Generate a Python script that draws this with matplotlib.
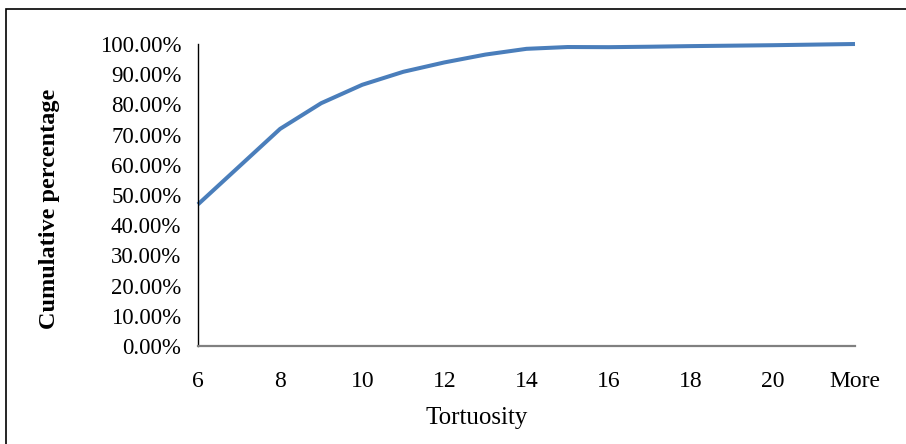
import matplotlib.pyplot as plt
from matplotlib.patches import Rectangle
from matplotlib.ticker import PercentFormatter

# cumulative distribution of tortuosity (histogram bins)
bins = ['6', '7', '8', '9', '10', '11', '12', '13', '14', '15', '16',
        '17', '18', '19', '20', '21', 'More']
cum_pct = [46.9, 59.4, 71.9, 80.4, 86.5, 90.8, 93.9, 96.5, 98.4, 99.0, 98.95,
           99.1, 99.3, 99.45, 99.6, 99.8, 100.0]

plt.rcParams['font.family'] = ['Liberation Serif', 'DejaVu Serif']

fig = plt.figure(figsize=(9.06, 4.44), dpi=100)
ax = fig.add_axes([198/906, 98/444, 657/906, 302/444])

x = list(range(len(bins)))
ax.plot(x, [v/100 for v in cum_pct], color='#4A7EBB', lw=2.9,
        solid_joinstyle='round', solid_capstyle='butt', clip_on=False)

ax.set_xlim(0, len(bins) - 1)
ax.set_ylim(0, 1)
ax.set_xticks(x[::2])
ax.set_xticklabels(bins[::2])
ax.set_yticks([i/10 for i in range(11)])
ax.yaxis.set_major_formatter(PercentFormatter(1.0, decimals=2))

ax.tick_params(axis='x', length=0, pad=18, labelsize=17)
ax.tick_params(axis='y', length=0, pad=12, labelsize=16.5)

for s in ['top', 'right']:
    ax.spines[s].set_visible(False)
ax.spines['left'].set_color('black')
ax.spines['left'].set_linewidth(1.0)
ax.spines['bottom'].set_color('#808080')
ax.spines['bottom'].set_linewidth(1.6)

fig.text(477/906, 1 - 418/444, 'Tortuosity', fontsize=18,
         ha='center', va='center')
fig.text(50/906, 1 - 209/444, 'Cumulative percentage', fontsize=17.5,
         fontweight='bold', rotation=90, ha='center', va='center')

# chart border
fig.patches.append(Rectangle((6/906, -0.2), 1.2, 1.2 - 9/444,
                             transform=fig.transFigure, fill=False,
                             edgecolor='black', lw=1.2, clip_on=False))

fig.savefig('out.png', dpi=100)
